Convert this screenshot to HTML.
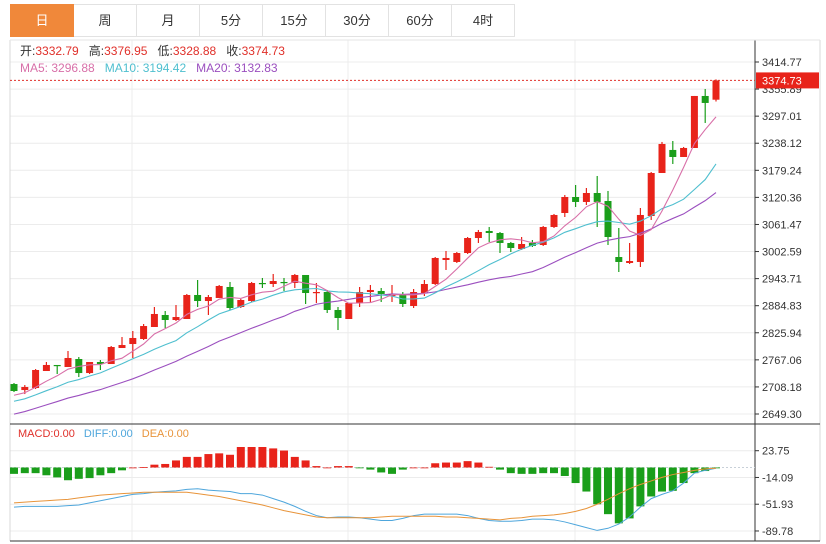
<!DOCTYPE html>
<html><head><meta charset="utf-8"><style>
body{margin:0;background:#fff;width:826px;height:544px;overflow:hidden;font-family:"Liberation Sans","Noto Sans CJK SC",sans-serif}
#tabs{position:absolute;left:10px;top:4px;height:32px;display:flex}
.tab{width:62px;height:31px;border:1px solid #e2e2e2;border-left:none;text-align:center;line-height:31px;font-size:13px;color:#333;box-sizing:content-box}
.tab:first-child{border-left:1px solid #e2e2e2}
.tab.on{background:#f0883a;color:#fff;border-color:#f0883a}
#info{position:absolute;left:20px;top:43px;font-size:12px;line-height:17px}
svg{position:absolute;left:0;top:0}
</style></head><body>
<div id="tabs">
<div class="tab on">日</div>
<div class="tab">周</div>
<div class="tab">月</div>
<div class="tab">5分</div>
<div class="tab">15分</div>
<div class="tab">30分</div>
<div class="tab">60分</div>
<div class="tab">4时</div>
</div>
<svg id="c" width="826" height="544"></svg>
<div id="info">
<div><span style="color:#333">开:</span><span style="color:#e0302a">3332.79</span>&nbsp;&nbsp; <span style="color:#333">高:</span><span style="color:#e0302a">3376.95</span>&nbsp;&nbsp; <span style="color:#333">低:</span><span style="color:#e0302a">3328.88</span>&nbsp;&nbsp; <span style="color:#333">收:</span><span style="color:#e0302a">3374.73</span></div>
<div><span style="color:#d86fa8">MA5: 3296.88</span>&nbsp;&nbsp; <span style="color:#4fbfcf">MA10: 3194.42</span>&nbsp;&nbsp; <span style="color:#9b4fbf">MA20: 3132.83</span></div>
</div>
<script>
const opens=[2714.5,2701.4,2705.8,2742.8,2755.9,2751.5,2768.9,2738.4,2762.4,2758.0,2792.8,2801.5,2812.4,2838.5,2864.6,2853.7,2855.9,2908.1,2895.0,2901.6,2925.5,2882.0,2895.0,2934.2,2932.0,2936.4,2934.2,2951.6,2912.4,2914.6,2875.5,2855.9,2890.7,2914.6,2916.8,2905.9,2910.3,2884.2,2912.4,2932.0,2984.2,2979.9,2999.4,3032.0,3047.3,3042.9,3021.2,3008.1,3021.2,3016.8,3056.0,3086.4,3121.2,3110.4,3129.9,3112.5,2990.7,2977.7,2979.9,3079.9,3173.4,3223.5,3208.2,3227.8,3340.9,3332.79];
const closes=[2699.3,2708.0,2745.0,2755.9,2753.7,2771.1,2738.4,2762.4,2758.0,2795.0,2799.3,2814.6,2840.6,2866.8,2853.7,2860.2,2908.1,2895.0,2903.7,2927.7,2879.8,2897.2,2934.2,2932.0,2938.5,2934.2,2951.6,2912.4,2914.6,2875.5,2858.1,2890.7,2914.6,2919.0,2910.3,2910.3,2888.5,2914.6,2932.0,2988.6,2988.6,2999.4,3032.0,3045.1,3042.9,3021.2,3010.3,3019.0,3014.7,3056.0,3082.1,3121.2,3110.4,3129.9,3110.4,3034.2,2979.9,2982.0,3082.1,3173.4,3236.5,3208.2,3227.8,3340.9,3325.7,3374.73];
const highs=[2716.7,2712.3,2747.1,2762.4,2755.9,2786.3,2773.2,2762.4,2766.7,2797.2,2816.7,2829.8,2845.0,2882.0,2873.3,2886.3,2910.3,2940.7,2908.1,2929.8,2936.4,2899.4,2936.4,2945.1,2953.8,2945.1,2953.8,2951.6,2934.2,2919.0,2882.0,2890.7,2925.5,2929.8,2923.3,2929.8,2914.6,2921.1,2940.7,2990.7,3003.8,3001.6,3034.2,3049.5,3056.0,3045.1,3023.4,3034.2,3027.7,3058.2,3084.3,3125.6,3147.3,3140.8,3166.9,3134.3,3053.8,3021.2,3097.3,3175.6,3240.9,3243.0,3230.0,3340.9,3356.1,3376.95];
const lows=[2697.1,2692.7,2703.6,2742.8,2736.3,2751.5,2729.7,2736.3,2745.0,2758.0,2792.8,2771.1,2810.2,2838.5,2836.3,2851.5,2855.9,2882.0,2864.6,2901.6,2875.5,2879.8,2892.9,2923.3,2925.5,2916.8,2923.3,2888.5,2890.7,2868.9,2831.9,2855.9,2882.0,2892.9,2892.9,2892.9,2882.0,2879.8,2905.9,2929.8,2962.5,2977.7,2997.3,3021.2,3023.4,2999.4,3001.6,3006.0,3012.5,3014.7,3053.8,3077.7,3099.5,3103.8,3056.0,3016.8,2958.1,2975.5,2969.0,3071.2,3173.4,3193.0,3208.2,3227.8,3282.2,3328.88];
const priorCloses=[2595,2602,2608,2612,2618,2625,2630,2635,2640,2645,2655,2660,2664,2668,2673,2680,2686,2690,2695];
const priceTicks=["3414.77","3355.89","3297.01","3238.12","3179.24","3120.36","3061.47","3002.59","2943.71","2884.83","2825.94","2767.06","2708.18","2649.30"];
const macdHist=[-9,-8,-8,-11,-14,-18,-16,-15,-11,-8,-4,0,0.5,4,5,10,15,15,19,20,18,29,29,29,27,24,15,10,2,0,2,2,-1,-3,-7,-9,-3,0,0,6,7,7,9,7,1,-3,-8,-9,-9,-8,-8,-12,-22,-34,-52,-66,-79,-72,-55,-41,-34,-33,-22,-8,-5,-1];
const diffVals=[-56,-55,-55,-55,-55,-54,-53,-50,-47,-44,-41,-38,-37,-35,-34,-33,-31,-30,-32,-33,-34,-37,-37,-39,-44,-49,-55,-62,-68,-71,-70,-70,-71,-73,-75,-75,-72,-68,-66,-66,-66,-66,-68,-72,-75,-76,-76,-75,-73,-73,-74,-77,-81,-85,-89,-86,-80,-70,-56,-44,-38,-33,-22,-8,-4,-1];
const deaVals=[-50,-49,-48,-47,-46,-45,-43,-41,-39,-38,-37,-36,-35,-35,-35,-35,-35,-37,-39,-41,-44,-47,-50,-53,-57,-61,-64,-67,-70,-71,-71,-71,-71,-71,-70,-69,-69,-69,-69,-69,-70,-70,-71,-72,-73,-74,-72,-71,-69,-68,-67,-65,-62,-58,-52,-45,-37,-30,-24,-19,-14,-10,-7,-4,-2,-1];
const macdTicks=[23.75,-14.09,-51.93,-89.78];

const NS="http://www.w3.org/2000/svg";
const svg=document.getElementById('c');
function mk(tag,attrs,parent){const e=document.createElementNS(NS,tag);for(const k in attrs)e.setAttribute(k,attrs[k]);(parent||svg).appendChild(e);return e;}
const pTop=3414.77,pBot=2649.30,yTop=62,yBot=414;
function py(p){return yTop+(pTop-p)/(pTop-pBot)*(yBot-yTop);}
function xi(i){return 14+i*10.8;}
const mZeroY=467.5,mScale=0.707;
function my(v){return mZeroY-v*mScale;}

// frame & grid
const grid=mk('g',{});


priceTicks.forEach(t=>{const y=py(parseFloat(t));mk('line',{x1:10,x2:755,y1:y,y2:y,stroke:'#ececec'},grid);});
macdTicks.forEach(t=>{const y=my(t);mk('line',{x1:10,x2:755,y1:y,y2:y,stroke:'#ececec'},grid);});
[132,348,575].forEach(x=>mk('line',{x1:x,x2:x,y1:40,y2:541,stroke:'#ececec'},grid));
mk('line',{x1:10,x2:10,y1:40,y2:541,stroke:'#d8d8d8'},grid);
mk('line',{x1:755,x2:755,y1:40,y2:541,stroke:'#333'},grid);
mk('line',{x1:820,x2:820,y1:40,y2:541,stroke:'#d8d8d8'},grid);
mk('line',{x1:10,x2:820,y1:424,y2:424,stroke:'#333'},grid);
mk('line',{x1:10,x2:820,y1:541,y2:541,stroke:'#333'},grid);
mk('line',{x1:10,x2:820,y1:40,y2:40,stroke:'#e6e6e6'},grid);

// price axis
const pax=mk('g',{});


priceTicks.forEach(t=>{const y=py(parseFloat(t));mk('line',{x1:755,x2:759,y1:y,y2:y,stroke:'#333'},pax);const tx=mk('text',{x:762,y:y+4,'font-size':11,fill:'#333'},pax);tx.textContent=t;});
const max=mk('g',{});


macdTicks.forEach(t=>{const y=my(t);mk('line',{x1:755,x2:759,y1:y,y2:y,stroke:'#333'},max);const tx=mk('text',{x:762,y:y+4,'font-size':11,fill:'#333'},max);tx.textContent=t.toFixed(2);});

// candles
const cg=mk('g',{});


for(let i=0;i<closes.length;i++){
  const up=closes[i]>=opens[i];const col=up?'#e8231a':'#1a9e1a';
  const x=xi(i);
  const w=mk('line',{x1:x,x2:x,y1:py(highs[i]),y2:py(lows[i]),stroke:col,'stroke-width':1.2},cg);
  
  
  const y1=py(Math.max(opens[i],closes[i])),y2=py(Math.min(opens[i],closes[i]));
  const b=mk('rect',{x:x-3.5,y:y1,width:7,height:Math.max(1.2,y2-y1),fill:col},cg);
  
  
}
// MAs
const all=priorCloses.concat(closes);
function ma(n,color,name){
  let pts=[];
  for(let i=0;i<closes.length;i++){const k=i+priorCloses.length;let s=0,c=0;for(let j=Math.max(0,k-n+1);j<=k;j++){s+=all[j];c++;}pts.push(xi(i)+','+py(s/c));}
  const l=mk('polyline',{points:pts.join(' '),fill:'none',stroke:color,'stroke-width':1.1});
  
  
}
ma(20,'#9b4fbf','ma20-line');ma(10,'#4fbfcf','ma10-line');ma(5,'#d86fa8','ma5-line');

// last price line & label
const lp=closes[closes.length-1];
const ll=mk('line',{x1:10,x2:755,y1:py(lp),y2:py(lp),stroke:'#e0302a','stroke-dasharray':'2,2'});


const lb=mk('rect',{x:756,y:py(lp)-8,width:63,height:16,fill:'#e8231a'});


const lt=mk('text',{x:762,y:py(lp)+4,'font-size':11,fill:'#fff'});lt.textContent=lp.toFixed(2);

// MACD
const mz=mk('line',{x1:10,x2:755,y1:mZeroY,y2:mZeroY,stroke:'#c8d0d8','stroke-dasharray':'2,2'});
const hg=mk('g',{});


macdHist.forEach((v,i)=>{const y0=my(0),y=my(v);const r=mk('rect',{x:xi(i)-4,y:Math.min(y0,y),width:8,height:Math.max(0.8,Math.abs(y-y0)),fill:v>=0?'#e8231a':'#1a9e1a'},hg);
  
  });
const dl=mk('polyline',{points:diffVals.map((v,i)=>xi(i)+','+my(v)).join(' '),fill:'none',stroke:'#4ea6dc','stroke-width':1});


const el=mk('polyline',{points:deaVals.map((v,i)=>xi(i)+','+my(v)).join(' '),fill:'none',stroke:'#e8943a','stroke-width':1});


const leg=mk('text',{x:18,y:437,'font-size':11});


leg.innerHTML='<tspan fill="#e0302a">MACD:0.00</tspan><tspan dx="9" fill="#4ea6dc">DIFF:0.00</tspan><tspan dx="9" fill="#e8943a">DEA:0.00</tspan>';
</script>
</body></html>
